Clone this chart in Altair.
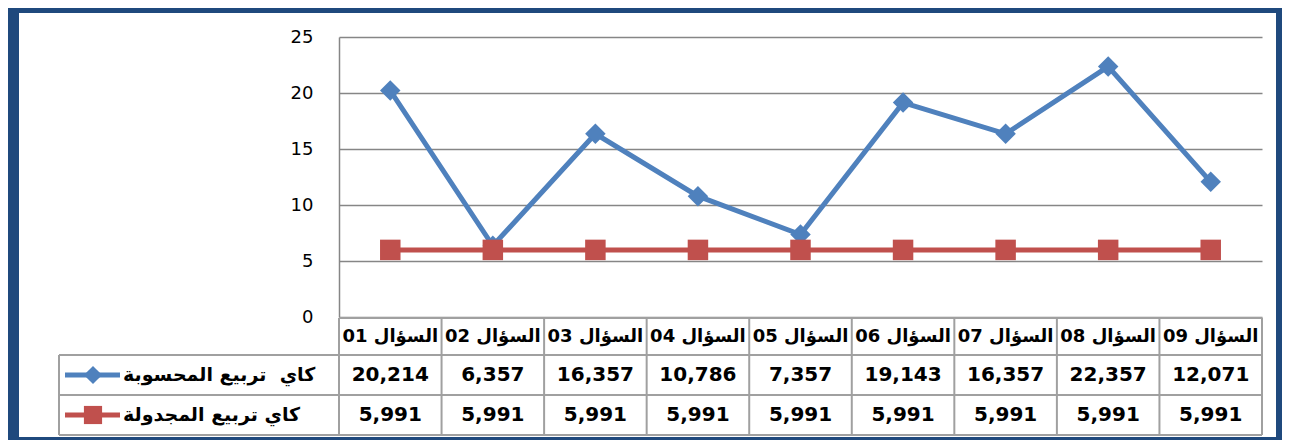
import altair as alt
import pandas as pd

questions = ["السؤال 01", "السؤال 02", "السؤال 03", "السؤال 04", "السؤال 05",
             "السؤال 06", "السؤال 07", "السؤال 08", "السؤال 09"]
computed = [20.214, 6.357, 16.357, 10.786, 7.357, 19.143, 16.357, 22.357, 12.071]
tabulated = [5.991, 5.991, 5.991, 5.991, 5.991, 5.991, 5.991, 5.991, 5.991]
series_names = ["كاي\u00a0 تربيع المحسوبة", "كاي تربيع المجدولة"]
series_colors = ["#4F81BD", "#C0504D"]
series_shapes = ["diamond", "square"]
y_ticks = [0, 5, 10, 15, 20, 25]

rows = []
for name, vals in zip(series_names, [computed, tabulated]):
    for q, v in zip(questions, vals):
        rows.append({"q": q, "series": name, "value": v,
                     "label": f"{v:.3f}".replace(".", ",")})
df = pd.DataFrame(rows)

FONT = "DejaVu Sans"
GRID = "#868686"
TABLE = "#A0A0A0"
BORDER = "#1F497D"

xs = alt.Scale(type="band", domain=questions, paddingInner=0, paddingOuter=0)
ys = alt.Scale(domain=[0, 25], nice=False, zero=True)
X = alt.X("q:N", scale=xs, axis=None, sort=questions)
Y = alt.Y("value:Q", scale=ys, axis=alt.Axis(
    values=y_ticks, grid=True, gridColor=GRID, gridWidth=1.5,
    domain=True, domainColor=GRID, domainWidth=1.5, ticks=False,
    labelPadding=26, labelFont=FONT, labelFontSize=18, labelColor="black",
    title=None))
color = alt.Color("series:N", scale=alt.Scale(domain=series_names, range=series_colors), legend=None)
shape = alt.Shape("series:N", scale=alt.Scale(domain=series_names, range=series_shapes), legend=None)

base = alt.Chart(df)
one = alt.Chart(pd.DataFrame({"k": [0]}))

lines = base.mark_line(strokeWidth=5).encode(x=X, y=Y, color=color, detail="series:N")
points = base.mark_point(filled=True, opacity=1, size=420).encode(x=X, y=Y, color=color, shape=shape)

# outer frame
def rect(x, x2, y, y2, c):
    return one.mark_rect(color=c).encode(x=alt.value(x), x2=alt.value(x2), y=alt.value(y), y2=alt.value(y2))

borders = [
    rect(-331, -320, -29, 403, BORDER),
    rect(-331, 943, -29, -24, BORDER),
    rect(937, 943, -29, 403, BORDER),
    rect(-331, 943, 400, 403, BORDER),
]

def hline(x, x2, y):
    return one.mark_rule(color=TABLE, strokeWidth=2).encode(
        x=alt.value(x), x2=alt.value(x2), y=alt.value(y))

def vline(x, y, y2):
    return one.mark_rule(color=TABLE, strokeWidth=2).encode(
        x=alt.value(x), y=alt.value(y), y2=alt.value(y2))

table_lines = [
    hline(0, 923, 281),
    hline(-280, 923, 318),
    hline(-280, 923, 358),
    hline(-280, 923, 398),
    vline(-280, 318, 398),
    vline(923, 281, 398),
]
col_lines = base.transform_filter(alt.datum.series == series_names[0]).mark_rule(
    color=TABLE, strokeWidth=2).encode(
    x=alt.X("q:N", scale=xs, axis=None, sort=questions, bandPosition=0),
    y=alt.value(281), y2=alt.value(398))

header = base.transform_filter(alt.datum.series == series_names[0]).mark_text(
    font=FONT, fontSize=18, fontWeight="bold", color="black", baseline="middle").encode(
    x=X, y=alt.value(300), text="q:N")

row_y = [338, 378]
value_rows = []
legend_parts = []
for name, c, shp, yy in zip(series_names, series_colors, series_shapes, row_y):
    value_rows.append(base.transform_filter(alt.datum.series == name).mark_text(
        font=FONT, fontSize=20, fontWeight="bold", color="black", baseline="middle").encode(
        x=X, y=alt.value(yy), text="label:N"))
    legend_parts.append(one.mark_rule(color=c, strokeWidth=5).encode(
        x=alt.value(-274), x2=alt.value(-219), y=alt.value(yy)))
    legend_parts.append(one.mark_point(filled=True, opacity=1, color=c, shape=shp, size=330).encode(
        x=alt.value(-246), y=alt.value(yy)))
    legend_parts.append(one.mark_text(
        font=FONT, fontSize=19, fontWeight="bold", color="black", align="left",
        baseline="middle", text=name).encode(x=alt.value(-216), y=alt.value(yy)))

chart = alt.layer(
    *table_lines, col_lines, lines, points, header, *value_rows, *legend_parts, *borders
).properties(
    width=923, height=280,
    autosize=alt.AutoSizeParams(type="none"),
    padding={"left": 331, "top": 29, "right": 20, "bottom": 123},
    background="white",
).configure_view(stroke=None)

chart.save("out.html", embed_options={"renderer": "svg", "actions": False})
